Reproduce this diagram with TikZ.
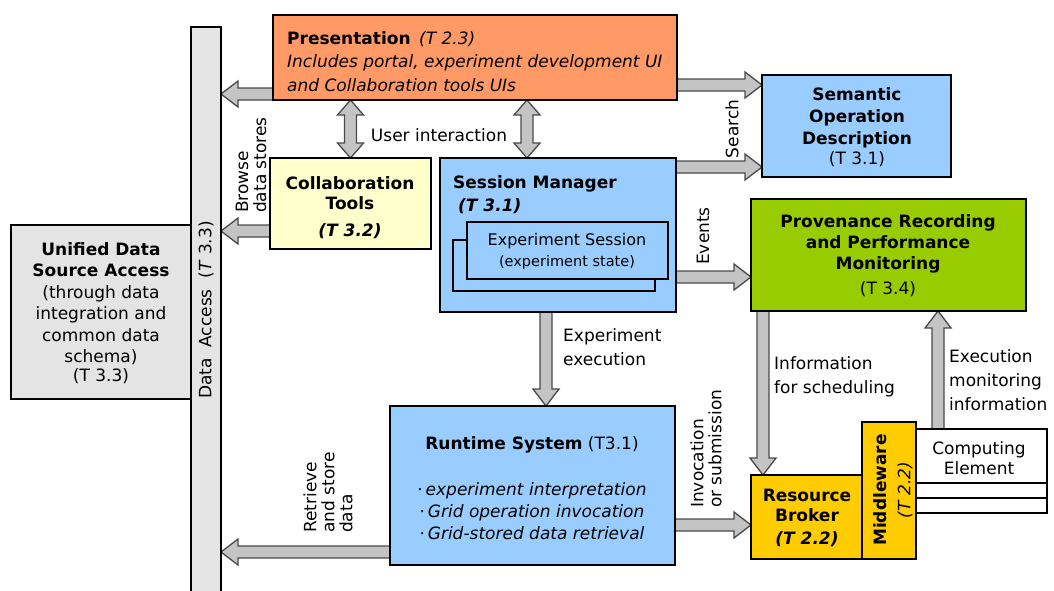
\documentclass[tikz,border=0pt]{standalone}
\usepackage{fontspec}
\setmainfont{DejaVu Sans}
\usetikzlibrary{calc}
\pgfdeclarelayer{back}
\pgfdeclarelayer{bg}
\pgfsetlayers{back,bg,main}
\definecolor{cpres}{HTML}{FF9966}
\definecolor{cblue}{HTML}{99CCFF}
\definecolor{cyel}{HTML}{FFFFCC}
\definecolor{cgreen}{HTML}{99CC00}
\definecolor{cgold}{HTML}{FFCC00}
\definecolor{cgray}{HTML}{E4E4E4}
\definecolor{arrowgray}{HTML}{C4C4C4}
\definecolor{arrowline}{HTML}{4A4A4A}
% single block arrow from #1 to #2
\newcommand\blkarrow[2]{%
  \coordinate (sa-s) at #1;
  \coordinate (sa-e) at #2;
  \coordinate (sa-h) at ($(sa-e)!17pt!(sa-s)$);
  \filldraw[barrow] ($(sa-s)!6pt!90:(sa-e)$) -- ($(sa-h)!6pt!-90:(sa-s)$) -- ($(sa-h)!13pt!-90:(sa-s)$) -- (sa-e) -- ($(sa-h)!13pt!90:(sa-s)$) -- ($(sa-h)!6pt!90:(sa-s)$) -- ($(sa-s)!6pt!-90:(sa-e)$) -- cycle;
}
% double block arrow between #1 and #2
\newcommand\dblarrow[2]{%
  \coordinate (da-s) at #1;
  \coordinate (da-e) at #2;
  \coordinate (da-h) at ($(da-e)!15pt!(da-s)$);
  \coordinate (da-g) at ($(da-s)!15pt!(da-e)$);
  \filldraw[barrow] (da-s) -- ($(da-g)!13pt!90:(da-e)$) -- ($(da-g)!6pt!90:(da-e)$) -- ($(da-h)!6pt!-90:(da-s)$) -- ($(da-h)!13pt!-90:(da-s)$) -- (da-e) -- ($(da-h)!13pt!90:(da-s)$) -- ($(da-h)!6pt!90:(da-s)$) -- ($(da-g)!6pt!-90:(da-e)$) -- ($(da-g)!13pt!-90:(da-e)$) -- cycle;
}
\begin{document}
\begin{tikzpicture}[x=1pt,y=-1pt, font=\fontsize{17}{22}\selectfont,
  box/.style={draw=black, line width=2.4pt, inner sep=0pt, outer sep=0pt, anchor=north west},
  barrow/.style={fill=arrowgray, draw=arrowline, line width=1.3pt, line join=miter},
  txt/.style={inner sep=0pt, align=center},
  rlbl/.style={inner sep=0pt, align=left, rotate=90, font=\fontsize{17}{18}\selectfont},
  hlbl/.style={inner sep=0pt, align=left, font=\fontsize{17}{24}\selectfont}]
\useasboundingbox (0,0) rectangle (1054,590);
\begin{pgfonlayer}{back}
  \fill[white] (0,0) rectangle (1054,590);
\end{pgfonlayer}

% boxes
\node[box, fill=cgray, minimum width=30pt, minimum height=580pt] (bar) at (191,27) {};
\node[box, fill=cgray, minimum width=180pt, minimum height=174pt] (uni) at (11,225) {};
\node[box, fill=cpres, minimum width=404pt, minimum height=85pt] (pres) at (273,15) {};
\node[box, fill=cyel, minimum width=161pt, minimum height=91pt] (collab) at (270,158) {};
\node[box, fill=cblue, minimum width=236pt, minimum height=154pt] (session) at (440,158) {};
\node[box, fill=cblue, line width=2pt, minimum width=202pt, minimum height=51pt] (esback) at (453,240) {};
\node[box, fill=cblue, line width=2pt, minimum width=201pt, minimum height=57pt] (esfront) at (467,222) {};
\node[box, fill=cblue, minimum width=189pt, minimum height=102pt] (sem) at (762,75) {};
\node[box, fill=cgreen, minimum width=275pt, minimum height=112pt] (prov) at (751,199) {};
\node[box, fill=cblue, minimum width=285pt, minimum height=159pt] (runtime) at (390,406) {};
\node[box, fill=cgold, minimum width=111pt, minimum height=84pt] (broker) at (751,475) {};
\node[box, fill=cgold, minimum width=54pt, minimum height=137pt] (mw) at (862,422) {};
\node[box, fill=white, minimum width=131pt, minimum height=54pt] (comp) at (916,429) {};
\node[box, fill=white, minimum width=131pt, minimum height=15pt] (row1) at (916,483) {};
\node[box, fill=white, minimum width=131pt, minimum height=15pt] (row2) at (916,498) {};

% arrows
\begin{pgfonlayer}{bg}
  \blkarrow{($(pres.south west)+(0,-6)$)}{(bar.east |- sa-s)}
  \blkarrow{($(collab.south west)+(0,-18)$)}{(bar.east |- sa-s)}
  \dblarrow{(collab.north)}{(pres.south -| da-s)}
  \dblarrow{($(session.north west)+(87,0)$)}{(pres.south -| da-s)}
  \blkarrow{($(pres.north east)+(0,70)$)}{(sem.west |- sa-s)}
  \blkarrow{($(session.north east)+(0,9)$)}{(sem.west |- sa-s)}
  \blkarrow{($(session.south east)+(0,-35)$)}{(prov.west |- sa-s)}
  \blkarrow{($(session.south west)+(106,0)$)}{(runtime.north -| sa-s)}
  \blkarrow{($(runtime.south west)+(0,-13)$)}{(bar.east |- sa-s)}
  \blkarrow{($(runtime.south east)+(0,-40)$)}{(broker.west |- sa-s)}
  \blkarrow{($(prov.south west)+(12,0)$)}{(broker.north -| sa-s)}
  \blkarrow{($(comp.north west)+(22,0)$)}{(prov.south -| sa-s)}
\end{pgfonlayer}

% texts in boxes
\node[txt, anchor=west, align=left] (prestxt) at (287,61.5) {\textbf{Presentation}\enspace\textit{(T 2.3)}\\[1.5pt]\textit{Includes portal, experiment development UI}\\[1.5pt]\textit{and Collaboration tools UIs}};
\node[txt, rotate=90] (bartxt) at (206,310) {Data\ \ Access\ \ (\textit{T} 3.3)};
\node[txt, font=\fontsize{17}{21.5}\selectfont] (unitxt) at (101,313) {\textbf{Unified Data}\\\textbf{Source Access}\\(through data\\integration and\\common data\\schema)\\[-3pt](T 3.3)};
\node[txt, font=\fontsize{17}{20}\selectfont] (collabtxt) at (350,193) {\textbf{Collaboration}\\\textbf{Tools}};
\node[txt, anchor=base] (collabt) at (350,236) {\textbf{\textit{(T 3.2)}}};
\node[txt, anchor=base west] (sesstxt) at (453,188) {\textbf{Session Manager}};
\node[txt, anchor=base west] (sesst) at (458,211) {\textbf{\textit{(T 3.1)}}};
\node[txt, font=\fontsize{16}{21}\selectfont] (estxt) at (567,251) {Experiment Session\\{\fontsize{14.5}{17}\selectfont(experiment state)}};
\node[txt] (semtxt) at (857,127) {\textbf{Semantic}\\\textbf{Operation}\\\textbf{Description}\\[-2pt](T 3.1)};
\node[txt, font=\fontsize{17}{21}\selectfont] (provtxt) at (888,256) {\textbf{Provenance Recording}\\\textbf{and Performance}\\\textbf{Monitoring}\\[4pt](T 3.4)};
\node[txt, anchor=base] (rttxt) at (532,449) {\textbf{Runtime System} (T3.1)};
\node[txt] (rtlist) at (532,511) {·\,\textit{experiment interpretation}\\·\,\textit{Grid operation invocation}\\·\,\textit{Grid-stored data retrieval}};
\node[txt, font=\fontsize{17}{20}\selectfont] (brtxt) at (807,505) {\textbf{Resource}\\\textbf{Broker}};
\node[txt, anchor=base] (brt) at (807,544) {\textbf{\textit{(T 2.2)}}};
\node[txt, rotate=90] (mwtxt) at (880,490) {\textbf{Middleware}};
\node[txt, rotate=90] (mwt) at (905,490) {\textit{(T 2.2)}};
\node[txt, font=\fontsize{17}{20}\selectfont] (comptxt) at (979,458) {Computing\\Element};

% connector labels
\node[txt] (uilbl) at (439,135) {User interaction};
\node[rlbl, anchor=west] (browselbl) at (251,213) {Browse\\data stores};
\node[rlbl] (searchlbl) at (732,129) {Search};
\node[rlbl] (eventslbl) at (703,236) {Events};
\node[rlbl, anchor=west] (invlbl) at (706,508) {Invocation\\or submission};
\node[rlbl, anchor=west] (retlbl) at (328,533) {Retrieve\\and store\\data};
\node[hlbl, anchor=west] (execlbl) at (563,347) {Experiment\\execution};
\node[hlbl, anchor=west] (infolbl) at (774,377) {Information\\for scheduling};
\node[hlbl, anchor=west] (monlbl) at (949,380) {Execution\\monitoring\\information};
\end{tikzpicture}
\end{document}
